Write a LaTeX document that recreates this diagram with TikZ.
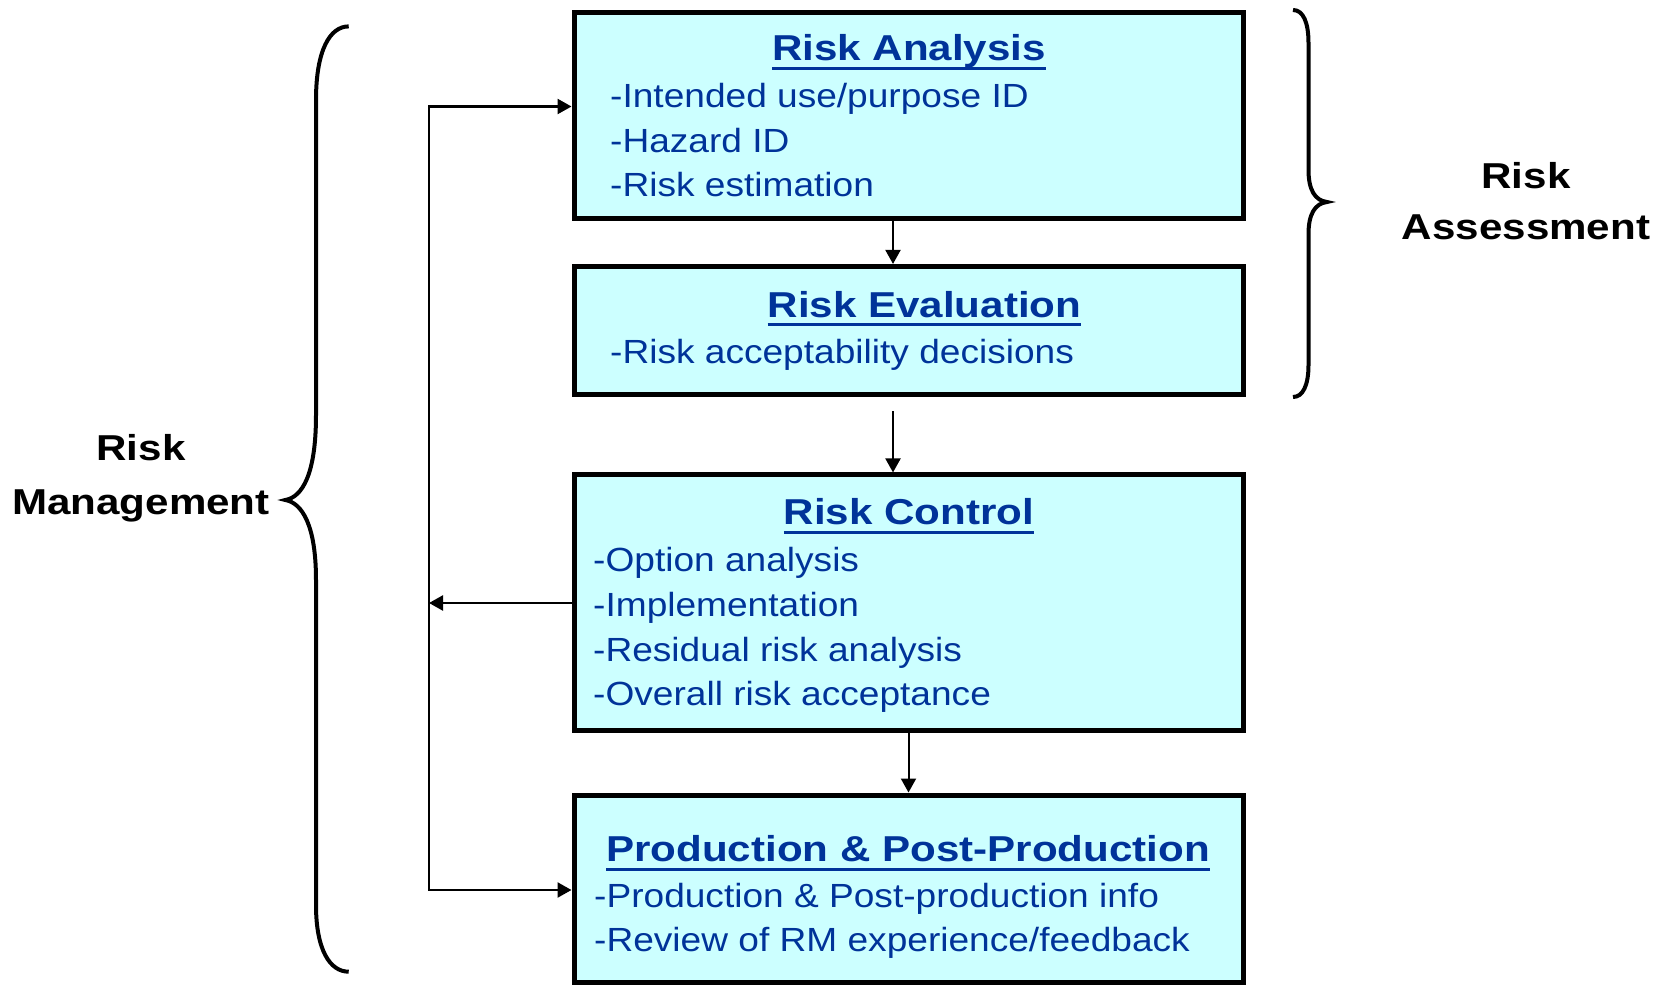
\documentclass[tikz,border=0pt]{standalone}
\usepackage{fontspec}
\setmainfont{Liberation Sans}
\newfontfamily\headfont[FakeStretch=1.17]{Liberation Sans}
\newfontfamily\bodyfont[FakeStretch=1.107]{Liberation Sans}
\usetikzlibrary{arrows.meta}
\definecolor{boxfill}{HTML}{CCFFFF}
\definecolor{inkblue}{HTML}{003399}
% heading text with a heavy underline
\newcommand\headline[1]{\setbox0\hbox{#1}\rlap{\copy0}\raisebox{-9pt}{\rule{\wd0}{3pt}}}
\tikzset{
  stagebox/.style={draw=black, line width=5pt, fill=boxfill, rectangle, inner sep=0pt},
  head/.style={anchor=base, inner sep=0pt, text=inkblue, font=\headfont\bfseries\fontsize{36}{40}\selectfont},
  item/.style={anchor=base west, inner sep=0pt, text=inkblue, font=\bodyfont\fontsize{33.5}{40}\selectfont},
  side/.style={anchor=base, inner sep=0pt, text=black, font=\headfont\bfseries\fontsize{36}{40}\selectfont},
  tip/.tip={Triangle[length=14pt,width=15pt]},
  arr/.style={line width=2pt, -tip},
  fb/.style={line width=2.4pt},
  fbtip/.style={fb, -tip},
  curly/.style={line width=4pt},
}
\begin{document}
\begin{tikzpicture}[x=1pt, y=-1pt]
  \fill[white] (0,0) rectangle (1660,985);
  \useasboundingbox (0,0) rectangle (1660,985);

  % stage boxes
  \node[stagebox, minimum width=669pt, minimum height=206pt]   (ra)   at (908.5,115.4) {};
  \node[stagebox, minimum width=669pt, minimum height=128.3pt] (re)   at (908.5,330.6) {};
  \node[stagebox, minimum width=669pt, minimum height=255.5pt] (rc)   at (908.5,602.7) {};
  \node[stagebox, minimum width=669pt, minimum height=187pt]   (prod) at (908.5,888.5) {};

  % Risk Analysis
  \node[head] (raHead) at (909,60.7) {\headline{Risk Analysis}};
  \node[item] (raA) at (610,107.3) {-Intended use/purpose ID};
  \node[item] (raB) at (610,152)   {-Hazard ID};
  \node[item] (raC) at (610,196.7) {-Risk estimation};

  % Risk Evaluation
  \node[head] (reHead) at (924.5,317) {\headline{Risk Evaluation}};
  \node[item] (reA) at (610,363.5) {-Risk acceptability decisions};

  % Risk Control
  \node[head] (rcHead) at (909,524.5) {\headline{Risk Control}};
  \node[item] (rcA) at (593,571.5) {-Option analysis};
  \node[item] (rcB) at (593,616.2) {-Implementation};
  \node[item] (rcC) at (593,661)   {-Residual risk analysis};
  \node[item] (rcD) at (593,705.7) {-Overall risk acceptance};

  % Production & Post-Production
  \node[head] (prHead) at (908,861.7) {\headline{Production \& Post-Production}};
  \node[item] (prA) at (594,907.5) {-Production \& Post-production info};
  \node[item] (prB) at (594,951.5) {-Review of RM experience/feedback};

  % flow between stages
  \draw[arr] ([xshift=-15.5pt]ra.south) -- ([xshift=-15.5pt]re.north);
  \draw[arr] ([xshift=-15.5pt,yshift=-14pt]re.south) -- ([xshift=-15.5pt]rc.north);
  \draw[arr] (rc.south) -- (prod.north);

  % feedback loop on the left
  \coordinate (loopTop) at (429,106.5);
  \coordinate (loopMid) at (429,603);
  \coordinate (loopBot) at (429,890);
  \draw[fb, tip-tip] (loopTop -| ra.west) -- (loopTop) -- (loopBot) -- (loopBot -| prod.west);
  \draw[fbtip] (loopMid -| rc.west) -- (loopMid);

  % braces
  \draw[curly] (348.7,26.4) .. controls (330,26.4) and (316,50) .. (316,100)
    -- (316,415) .. controls (316,475) and (302,497) .. (285.4,500)
    .. controls (302,503) and (316,525) .. (316,580)
    -- (316,905) .. controls (316,950) and (330,971.7) .. (348.7,971.7);
  \draw[curly] (1293,10) .. controls (1303,10) and (1308.5,22) .. (1308.5,43)
    -- (1308.5,170) .. controls (1308.5,190) and (1315,200.5) .. (1327,202)
    .. controls (1315,203.5) and (1308.5,214) .. (1308.5,234)
    -- (1308.5,365) .. controls (1308.5,385) and (1303,397) .. (1293,397);

  % brace labels
  \node[side] (rmA) at (141,460) {Risk};
  \node[side] (rmB) at (141,514) {Management};
  \node[side] (asA) at (1526,188) {Risk};
  \node[side] (asB) at (1526,239) {Assessment};
\end{tikzpicture}
\end{document}
